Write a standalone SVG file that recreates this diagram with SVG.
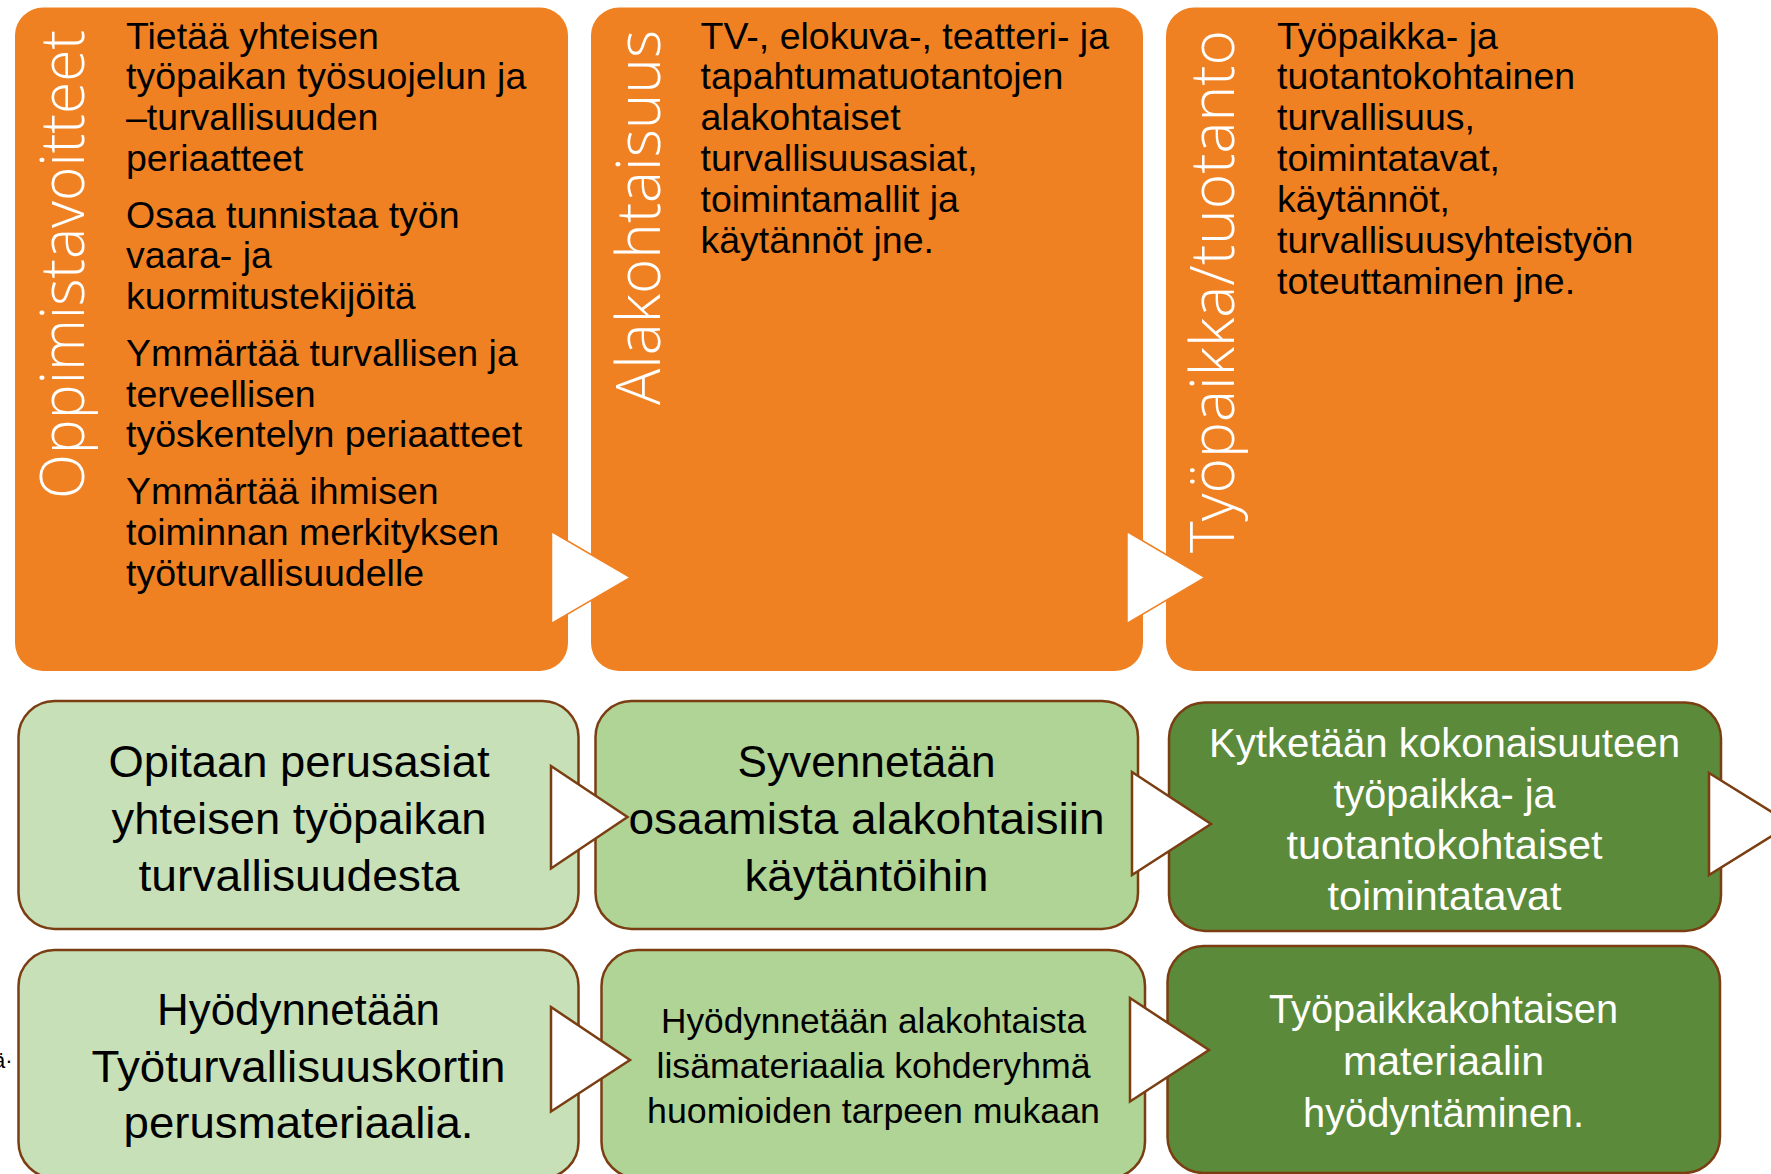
<svg xmlns="http://www.w3.org/2000/svg" width="1771" height="1174" viewBox="0 0 1771 1174">
<style>
.orange{fill:#F08122;}
.title{font-family:"Open Sans","Liberation Sans",sans-serif;font-weight:300;font-size:61px;fill:#FFFFFF;}
.body{font-family:"Liberation Sans",Arial,sans-serif;font-size:37.5px;fill:#000000;}
.g1{fill:#C8E0B7;stroke:#7A3E12;stroke-width:2.5;}
.g2{fill:#B0D396;stroke:#7A3E12;stroke-width:2.5;}
.g3{fill:#5B8A3B;stroke:#7A3E12;stroke-width:2.5;}
.gt{font-family:"Liberation Sans",Arial,sans-serif;text-anchor:middle;fill:#000000;}
.wt{font-family:"Liberation Sans",Arial,sans-serif;text-anchor:middle;fill:#FFFFFF;}
.arrO{fill:#FFFFFF;stroke:#F08122;stroke-width:1.5;}
.arrG{fill:#FFFFFF;stroke:#7A3E12;stroke-width:2.5;stroke-linejoin:miter;}
</style>
<rect width="1771" height="1174" fill="#FFFFFF"/>

<g id="node-oppimistavoitteet">
<rect class="orange" x="15" y="7.5" width="553" height="663.5" rx="28"/>
<text class="title" transform="translate(84,30) rotate(-90)" text-anchor="end" textLength="469" lengthAdjust="spacingAndGlyphs">Oppimistavoitteet</text>
<g class="body">
<text x="126" y="48.6">Tietää yhteisen</text>
<text x="126" y="89">työpaikan työsuojelun ja</text>
<text x="126" y="130">–turvallisuuden</text>
<text x="126" y="171">periaatteet</text>
<text x="126" y="228">Osaa tunnistaa työn</text>
<text x="126" y="268">vaara- ja</text>
<text x="126" y="309">kuormitustekijöitä</text>
<text x="126" y="366">Ymmärtää turvallisen ja</text>
<text x="126" y="407">terveellisen</text>
<text x="126" y="447">työskentelyn periaatteet</text>
<text x="126" y="504">Ymmärtää ihmisen</text>
<text x="126" y="544.5">toiminnan merkityksen</text>
<text x="126" y="585.5">työturvallisuudelle</text>
</g>
</g>

<g id="node-alakohtaisuus">
<rect class="orange" x="591" y="7.5" width="552" height="663.5" rx="28"/>
<text class="title" transform="translate(660,30) rotate(-90)" text-anchor="end" textLength="375" lengthAdjust="spacingAndGlyphs">Alakohtaisuus</text>
<g class="body">
<text x="700.5" y="48.6">TV-, elokuva-, teatteri- ja</text>
<text x="700.5" y="89">tapahtumatuotantojen</text>
<text x="700.5" y="130">alakohtaiset</text>
<text x="700.5" y="171">turvallisuusasiat,</text>
<text x="700.5" y="212">toimintamallit ja</text>
<text x="700.5" y="253">käytännöt jne.</text>
</g>
</g>

<g id="node-tyopaikka-tuotanto">
<rect class="orange" x="1166" y="7.5" width="552" height="663.5" rx="28"/>
<text class="title" transform="translate(1234,30) rotate(-90)" text-anchor="end" textLength="523" lengthAdjust="spacingAndGlyphs">Työpaikka/tuotanto</text>
<g class="body">
<text x="1277" y="48.6">Työpaikka- ja</text>
<text x="1277" y="89">tuotantokohtainen</text>
<text x="1277" y="130">turvallisuus,</text>
<text x="1277" y="171">toimintatavat,</text>
<text x="1277" y="212">käytännöt,</text>
<text x="1277" y="253">turvallisuusyhteistyön</text>
<text x="1277" y="293.5">toteuttaminen jne.</text>
</g>
</g>

<g id="node-opitaan">
<rect class="g1" x="18.5" y="701" width="560" height="228" rx="36"/>
<g class="gt" font-size="44">
<text x="299" y="777" textLength="381" lengthAdjust="spacingAndGlyphs">Opitaan perusasiat</text>
<text x="299" y="834" textLength="375" lengthAdjust="spacingAndGlyphs">yhteisen työpaikan</text>
<text x="299" y="891" textLength="321" lengthAdjust="spacingAndGlyphs">turvallisuudesta</text>
</g>
</g>

<g id="node-syvennetaan">
<rect class="g2" x="595.5" y="701" width="542.5" height="228" rx="36"/>
<g class="gt" font-size="44">
<text x="866.5" y="777" textLength="258" lengthAdjust="spacingAndGlyphs">Syvennetään</text>
<text x="866.5" y="834" textLength="476" lengthAdjust="spacingAndGlyphs">osaamista alakohtaisiin</text>
<text x="866.5" y="891" textLength="244" lengthAdjust="spacingAndGlyphs">käytäntöihin</text>
</g>
</g>

<g id="node-kytketaan">
<rect class="g3" x="1169" y="702.5" width="552" height="228.5" rx="36"/>
<g class="wt" font-size="40">
<text x="1444.5" y="757" textLength="471" lengthAdjust="spacingAndGlyphs">Kytketään kokonaisuuteen</text>
<text x="1444.5" y="808" textLength="222" lengthAdjust="spacingAndGlyphs">työpaikka- ja</text>
<text x="1444.5" y="859" textLength="316" lengthAdjust="spacingAndGlyphs">tuotantokohtaiset</text>
<text x="1444.5" y="910" textLength="234" lengthAdjust="spacingAndGlyphs">toimintatavat</text>
</g>
</g>

<g id="node-hyodynnetaan-perus">
<rect class="g1" x="18.5" y="950" width="560" height="228" rx="36"/>
<g class="gt" font-size="44">
<text x="298.5" y="1025" textLength="283" lengthAdjust="spacingAndGlyphs">Hyödynnetään</text>
<text x="298.5" y="1082" textLength="414" lengthAdjust="spacingAndGlyphs">Työturvallisuuskortin</text>
<text x="298.5" y="1138" textLength="350" lengthAdjust="spacingAndGlyphs">perusmateriaalia.</text>
</g>
</g>

<g id="node-hyodynnetaan-ala">
<rect class="g2" x="601.5" y="950" width="543.5" height="228" rx="36"/>
<g class="gt" font-size="35">
<text x="873.5" y="1033" textLength="425" lengthAdjust="spacingAndGlyphs">Hyödynnetään alakohtaista</text>
<text x="873.5" y="1078" textLength="434" lengthAdjust="spacingAndGlyphs">lisämateriaalia kohderyhmä</text>
<text x="873.5" y="1123" textLength="453" lengthAdjust="spacingAndGlyphs">huomioiden tarpeen mukaan</text>
</g>
</g>

<g id="node-tyopaikkakohtaisen">
<rect class="g3" x="1167.5" y="946" width="552.5" height="227" rx="36"/>
<g class="wt" font-size="40">
<text x="1443.5" y="1023" textLength="349" lengthAdjust="spacingAndGlyphs">Työpaikkakohtaisen</text>
<text x="1443.5" y="1075" textLength="201" lengthAdjust="spacingAndGlyphs">materiaalin</text>
<text x="1443.5" y="1127" textLength="281" lengthAdjust="spacingAndGlyphs">hyödyntäminen.</text>
</g>
</g>

<g id="connectors">
<polygon class="arrO" points="551.5,531.5 630.5,577.5 551.5,623.5"/>
<polygon class="arrO" points="1127,531.5 1205,577.5 1127,623.5"/>
<polygon class="arrG" points="551,766 627.5,817 551,868.5"/>
<polygon class="arrG" points="1132,772 1211,824 1132,875"/>
<polygon class="arrG" points="1709,773 1791,824 1709,875"/>
<polygon class="arrG" points="551,1007 630,1060 551,1111.5"/>
<polygon class="arrG" points="1130,998 1209,1050 1130,1101.5"/>
</g>

<g id="fragment">
<text x="-7" y="1068" font-family="Liberation Sans, Arial, sans-serif" font-size="22" fill="#000000">ä·</text>
</g>
</svg>
